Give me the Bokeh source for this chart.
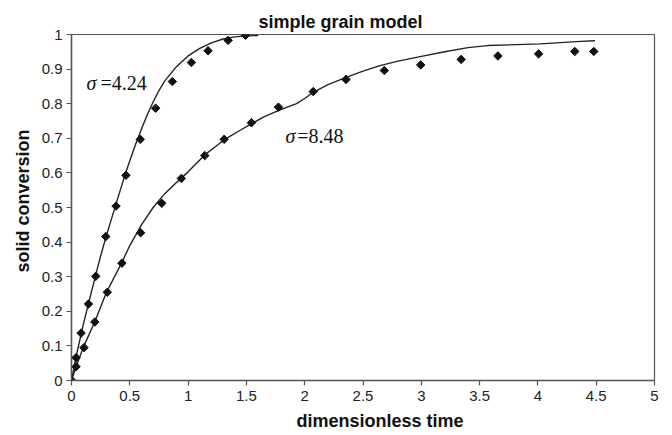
from math import pi

from bokeh.core.properties import value
from bokeh.embed import file_html
from bokeh.models import FixedTicker, Range1d, Title
from bokeh.plotting import figure
from bokeh.resources import INLINE

# Measured conversion (markers) for the two grain sizes
t_meas_424 = [0, 0.039, 0.082, 0.146, 0.208, 0.294, 0.382, 0.467, 0.590, 0.722, 0.865, 1.028, 1.171, 1.343, 1.492]
x_meas_424 = [0, 0.066, 0.137, 0.221, 0.301, 0.416, 0.504, 0.593, 0.697, 0.787, 0.864, 0.919, 0.953, 0.983, 0.998]

t_meas_848 = [0, 0.039, 0.107, 0.200, 0.307, 0.432, 0.593, 0.774, 0.942, 1.143, 1.309, 1.543, 1.775, 2.073,
              2.354, 2.683, 2.995, 3.342, 3.657, 4.006, 4.316, 4.479]
x_meas_848 = [0, 0.040, 0.095, 0.169, 0.255, 0.339, 0.427, 0.512, 0.584, 0.650, 0.697, 0.745, 0.790, 0.835,
              0.870, 0.896, 0.912, 0.928, 0.938, 0.944, 0.951, 0.951]

# Simple grain model predictions (lines)
t_model_424 = [0, 0.02, 0.05, 0.1, 0.15, 0.2, 0.25, 0.3, 0.35, 0.4, 0.45, 0.5, 0.55, 0.6, 0.65, 0.7, 0.75,
               0.8, 0.9, 1.0, 1.1, 1.2, 1.3, 1.4, 1.5, 1.6]
x_model_424 = [0, 0.035, 0.085, 0.16, 0.228, 0.295, 0.36, 0.42, 0.475, 0.53, 0.585, 0.635, 0.683, 0.727,
               0.768, 0.805, 0.838, 0.866, 0.907, 0.938, 0.960, 0.976, 0.987, 0.993, 0.996, 0.997]

t_model_848 = [0, 0.04, 0.1, 0.2, 0.3, 0.43, 0.5, 0.6, 0.7, 0.8, 0.9, 1.0, 1.143, 1.25, 1.329, 1.45, 1.543,
               1.65, 1.758, 1.85, 1.93, 2.0, 2.073, 2.2, 2.36, 2.5, 2.646, 2.8, 2.99, 3.2, 3.4, 3.566, 4.02,
               4.365, 4.49]
x_model_848 = [0, 0.04, 0.095, 0.17, 0.255, 0.34, 0.39, 0.45, 0.50, 0.54, 0.572, 0.603, 0.652, 0.68, 0.70,
               0.724, 0.742, 0.762, 0.778, 0.79, 0.80, 0.815, 0.833, 0.855, 0.877, 0.894, 0.91, 0.923, 0.936,
               0.95, 0.962, 0.968, 0.973, 0.98, 0.982]

x_ticks = [0, 0.5, 1, 1.5, 2, 2.5, 3, 3.5, 4, 4.5, 5]
y_ticks = [0, 0.1, 0.2, 0.3, 0.4, 0.5, 0.6, 0.7, 0.8, 0.9, 1]
x_tick_labels = ["0", "0.5", "1", "1.5", "2", "2.5", "3", "3.5", "4", "4.5", "5"]
y_tick_labels = ["0", "0.1", "0.2", "0.3", "0.4", "0.5", "0.6", "0.7", "0.8", "0.9", "1"]

sigma_values = ["=4.24", "=8.48"]

SANS = "Liberation Sans"
SERIF = "Liberation Serif"
INK = "#111111"
AXIS = "#555555"

p = figure(
    width=672, height=435,
    x_range=Range1d(0, 5), y_range=Range1d(0, 1),
    output_backend="svg", toolbar_location=None,
    min_border_left=71, min_border_right=18, min_border_top=34, min_border_bottom=55,
    background_fill_color="white", border_fill_color="white",
)
p.grid.visible = False
p.outline_line_color = AXIS
p.outline_line_width = 1.2

# Axes
for ax in (p.xaxis[0], p.yaxis[0]):
    ax.axis_line_color = AXIS
    ax.axis_line_width = 1.4
    ax.major_tick_line_color = AXIS
    ax.major_tick_line_width = 1.2
    ax.major_tick_in = 0
    ax.major_tick_out = 5
    ax.minor_tick_line_color = None
    ax.major_label_text_font = SANS
    ax.major_label_text_font_size = "15px"
    ax.major_label_text_color = "#222222"

p.xaxis.ticker = FixedTicker(ticks=x_ticks)
p.yaxis.ticker = FixedTicker(ticks=y_ticks)
p.xaxis.major_label_overrides = {t: s for t, s in zip(x_ticks, x_tick_labels)}
p.yaxis.major_label_overrides = {t: s for t, s in zip(y_ticks, y_tick_labels)}
p.xaxis.major_label_standoff = 5
p.yaxis.major_label_standoff = 4

# Title and axis titles
p.add_layout(Title(text="simple grain model", align="left", offset=187, text_font=SANS,
                   text_font_size="18px", text_font_style="bold", text_color=INK, standoff=6), "above")
p.add_layout(Title(text="dimensionless time", align="left", offset=225, text_font=SANS,
                   text_font_size="18px", text_font_style="bold", text_color=INK, standoff=10), "below")
p.add_layout(Title(text="solid conversion", align="left", offset=108, text_font=SANS,
                   text_font_size="18px", text_font_style="bold", text_color=INK, standoff=11), "left")

# Model curves
p.line(t_model_424, x_model_424, line_color="#222222", line_width=1.4)
p.line(t_model_848, x_model_848, line_color="#222222", line_width=1.4)

# Measurements as diamonds
p.scatter(t_meas_424, x_meas_424, marker="square", angle=pi / 4, size=6, fill_color=INK, line_color=INK)
p.scatter(t_meas_848, x_meas_848, marker="square", angle=pi / 4, size=6, fill_color=INK, line_color=INK)

# Curve annotations: italic sigma followed by its value
sigma_x = [0.129, 1.835]
sigma_y = [0.861, 0.707]
value_x = [0.249, 1.936]
p.text(x=sigma_x, y=sigma_y, text=["σ", "σ"], text_font=value(SERIF), text_font_style="italic",
       text_font_size="20px", text_baseline="middle", text_align="left", text_color=INK)
p.text(x=value_x, y=sigma_y, text=sigma_values, text_font=value(SERIF),
       text_font_size="20px", text_baseline="middle", text_align="left", text_color=INK)

open("out.html", "w").write(file_html(p, INLINE))
